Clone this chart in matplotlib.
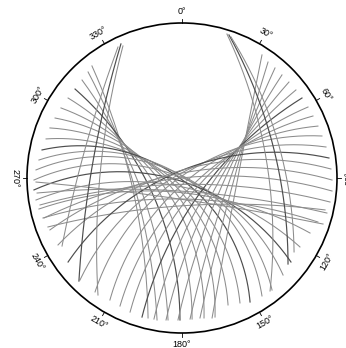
import numpy as np
import matplotlib.pyplot as plt
from matplotlib.patches import Circle

# each arc: start (x, y), a point it passes through, end (x, y)
# units: radius of the outer circle = 1, origin at its centre, y up
left_arcs = [
    (-0.581, 0.723, -0.510, 0.555, -0.219, -0.903),
    (-0.606, 0.684, -0.516, 0.503, -0.161, -0.916),
    (-0.645, 0.632, -0.523, 0.452, -0.090, -0.916),
    (-0.690, 0.574, -0.510, 0.394, -0.013, -0.916),
    (-0.735, 0.516, -0.490, 0.335, 0.065, -0.910),
    (-0.781, 0.452, -0.458, 0.284, 0.142, -0.903),
    (-0.819, 0.387, -0.419, 0.239, 0.213, -0.897),
    (-0.852, 0.323, -0.374, 0.194, 0.297, -0.819),
    (-0.877, 0.252, -0.323, 0.155, 0.374, -0.806),
    (-0.903, 0.181, -0.265, 0.135, 0.439, -0.800),
    (-0.923, 0.116, -0.206, 0.110, 0.516, -0.761),
    (-0.942, 0.052, -0.142, 0.077, 0.581, -0.723),
    (-0.955, -0.013, -0.103, 0.039, 0.652, -0.626),
    (-0.955, -0.077, -0.077, 0.000, 0.703, -0.542),
    (-0.942, -0.142, -0.065, -0.045, 0.761, -0.445),
    (-0.923, -0.200, -0.052, -0.090, 0.826, -0.355),
    (-0.897, -0.258, -0.039, -0.135, 0.877, -0.284),
    (-0.865, -0.316, -0.026, -0.181, 0.923, -0.206),
]

right_arcs = [
    (0.516, 0.794, 0.477, 0.600, 0.194, -0.903),
    (0.555, 0.748, 0.490, 0.535, 0.116, -0.903),
    (0.600, 0.710, 0.497, 0.477, 0.052, -0.910),
    (0.645, 0.665, 0.490, 0.413, -0.026, -0.916),
    (0.690, 0.619, 0.477, 0.355, -0.103, -0.916),
    (0.735, 0.568, 0.452, 0.297, -0.181, -0.910),
    (0.774, 0.516, 0.419, 0.245, -0.258, -0.897),
    (0.813, 0.458, 0.374, 0.200, -0.335, -0.865),
    (0.845, 0.400, 0.323, 0.161, -0.400, -0.826),
    (0.877, 0.335, 0.271, 0.148, -0.465, -0.787),
    (0.903, 0.271, 0.200, 0.129, -0.561, -0.735),
    (0.929, 0.200, 0.116, 0.090, -0.658, -0.658),
    (0.948, 0.129, 0.039, 0.065, -0.735, -0.542),
    (0.961, 0.058, -0.039, 0.039, -0.800, -0.432),
    (0.968, -0.013, -0.090, 0.013, -0.852, -0.335),
    (0.968, -0.084, -0.110, -0.013, -0.890, -0.258),
    (0.955, -0.155, -0.129, -0.045, -0.916, -0.174),
    (0.935, -0.226, -0.142, -0.077, -0.935, -0.097),
    (0.910, -0.297, -0.155, -0.116, -0.942, -0.026),
]

cusp_arcs = [
    (-0.394, 0.865, -0.535, 0.310, -0.665, -0.665),
    (-0.381, 0.852, -0.503, 0.245, -0.542, -0.755),
    (-0.413, 0.845, -0.581, 0.342, -0.774, -0.439),
    (0.290, 0.929, 0.490, 0.374, 0.568, -0.729),
    (0.303, 0.923, 0.529, 0.406, 0.684, -0.555),
    (0.316, 0.910, 0.555, 0.426, 0.723, -0.477),
]

dark_left = [3, 9, 13]
dark_right = [6, 12]
dark_cusp = [0, 4]

azimuths = list(range(0, 360, 30))
az_labels = ['%d°' % a for a in azimuths]


def arc_xy(x0, y0, xm, ym, x1, y1, n=150):
    d = 2 * (x0 * (ym - y1) + xm * (y1 - y0) + x1 * (y0 - ym))
    if abs(d) < 1e-9:
        return np.array([x0, x1]), np.array([y0, y1])
    s0, sm, s1 = x0**2 + y0**2, xm**2 + ym**2, x1**2 + y1**2
    cx = (s0 * (ym - y1) + sm * (y1 - y0) + s1 * (y0 - ym)) / d
    cy = (s0 * (x1 - xm) + sm * (x0 - x1) + s1 * (xm - x0)) / d
    r = np.hypot(x0 - cx, y0 - cy)
    t0 = np.arctan2(y0 - cy, x0 - cx)
    tm = np.arctan2(ym - cy, xm - cx)
    t1 = np.arctan2(y1 - cy, x1 - cx)
    sweep = (t1 - t0) % (2 * np.pi)
    if (tm - t0) % (2 * np.pi) > sweep:
        sweep -= 2 * np.pi
    t = t0 + sweep * np.linspace(0, 1, n)
    return cx + r * np.cos(t), cy + r * np.sin(t)


fig = plt.figure(figsize=(3.46, 3.48), dpi=100)
ax = fig.add_axes([0, 0, 1, 1])
ax.set_xlim(-182 / 155, 164 / 155)
ax.set_ylim(-170 / 155, 178 / 155)
ax.axis('off')

for arcs, dark in ((left_arcs, dark_left), (right_arcs, dark_right), (cusp_arcs, dark_cusp)):
    for i, a in enumerate(arcs):
        xs, ys = arc_xy(*a)
        if i in dark:
            ax.plot(xs, ys, color='0.3', lw=0.85)
        else:
            ax.plot(xs, ys, color='0.55', lw=0.75)

ax.add_patch(Circle((0, 0), 1.0, fill=False, color='black', lw=1.2))

for az, lab in zip(azimuths, az_labels):
    th = np.deg2rad(az)
    ax.plot([np.sin(th), 1.025 * np.sin(th)], [np.cos(th), 1.025 * np.cos(th)],
            color='black', lw=0.6)
    if 90 <= az <= 270:
        rot = 180 - az
    else:
        rot = -az
    ax.text(1.075 * np.sin(th), 1.075 * np.cos(th), lab, rotation=rot,
            ha='center', va='center', fontsize=6.5, family='Liberation Sans',
            rotation_mode='anchor')

fig.savefig('out.png', dpi=100)
